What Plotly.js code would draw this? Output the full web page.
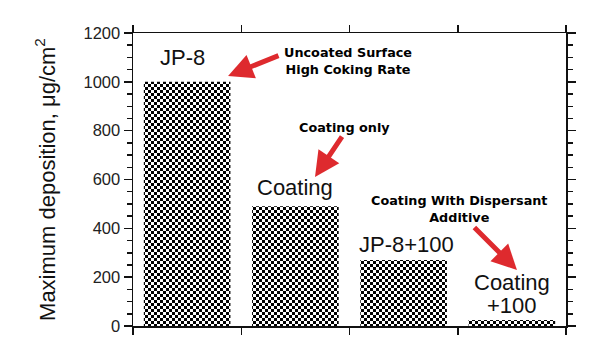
<!DOCTYPE html>
<html>
<head>
<meta charset="utf-8">
<script src="https://cdn.plot.ly/plotly-3.0.1.min.js"></script>
<style>html,body{margin:0;padding:0;background:#fff;}</style>
</head>
<body>
<div id="chart" style="width:600px;height:357px;"></div>
<script>
// ---- data ----
const categories = ["JP-8", "Coating", "JP-8+100", "Coating +100"];
const maxDeposition = [1000, 490, 270, 25];          // µg/cm²
const yTickValues = [0, 200, 400, 600, 800, 1000, 1200];
const yTickLabels = ["0", "200", "400", "600", "800", "1000", "1200"];
const barLabelLines = [["JP-8"], ["Coating"], ["JP-8+100"], ["Coating", "+100"]];
const noteTexts = ["Uncoated Surface<br>High Coking Rate", "Coating only", "Coating With Dispersant<br>Additive"];

// ---- layout helpers (positions in data units) ----
const labelSpots = [[{x: -0.04, y: 1098}], [{x: 1, y: 569}], [{x: 2.03, y: 332}], [{x: 3, y: 180}, {x: 3, y: 86}]];
const noteSpots = [{x: 1.486, y: 1087}, {x: 1.458, y: 815}, {x: 2.52, y: 481}];
const arrowSpots = [
  {x: 0.378, y: 1024, ax: 0.858, ay: 1110},
  {x: 1.181, y: 610, ax: 1.44, ay: 782},
  {x: 3.047, y: 229, ax: 2.64, ay: 410}
];

const trace = {
  type: "bar",
  x: categories,
  y: maxDeposition,
  width: 0.8,
  marker: {
    color: "#000",
    line: {width: 0},
    pattern: {shape: ".", size: 6, solidity: 0.5, fgcolor: "#000", bgcolor: "#fff", fillmode: "replace"}
  },
  hoverinfo: "skip"
};

const annotations = [];
barLabelLines.forEach((lines, i) => {
  lines.forEach((txt, j) => {
    annotations.push({
      x: labelSpots[i][j].x, y: labelSpots[i][j].y, xref: "x", yref: "y",
      text: txt, showarrow: false, xanchor: "center", yanchor: "middle",
      font: {family: "Liberation Sans, Arial, sans-serif", size: 22, color: "#111"}
    });
  });
});
noteTexts.forEach((txt, i) => {
  annotations.push({
    x: noteSpots[i].x, y: noteSpots[i].y, xref: "x", yref: "y",
    text: "<b>" + txt + "</b>", showarrow: false, xanchor: "center", yanchor: "middle",
    font: {family: "DejaVu Sans, sans-serif", size: 12.8, color: "#000"}
  });
});
arrowSpots.forEach(a => {
  annotations.push({
    x: a.x, y: a.y, xref: "x", yref: "y",
    ax: a.ax, ay: a.ay, axref: "x", ayref: "y",
    text: "", showarrow: true, arrowhead: 2, arrowsize: 1.0, arrowwidth: 5,
    arrowcolor: "#de2a2e", standoff: 0, startstandoff: 0
  });
});

const layout = {
  width: 600, height: 357,
  margin: {l: 133, r: 34, t: 33, b: 31, pad: 0},
  paper_bgcolor: "#fff", plot_bgcolor: "#fff",
  showlegend: false,
  bargap: 0.2,
  xaxis: {
    type: "category",
    categoryorder: "array", categoryarray: categories,
    range: [-0.5, 3.5],
    showticklabels: false,
    tickson: "boundaries",
    ticks: "outside", ticklen: 7, tickwidth: 1.5, tickcolor: "#111",
    showline: true, linecolor: "#111", linewidth: 1.5, mirror: "ticks",
    showgrid: false, zeroline: false, fixedrange: true
  },
  yaxis: {
    range: [0, 1200],
    tickvals: yTickValues, ticktext: yTickLabels,
    ticks: "outside", ticklen: 8, tickwidth: 1.5, tickcolor: "#111",
    minor: {dtick: 50, ticks: "outside", ticklen: 5, tickwidth: 1.5, tickcolor: "#111", showgrid: false},
    showline: true, linecolor: "#111", linewidth: 1.5, mirror: "ticks",
    showgrid: false, zeroline: false,
    tickfont: {family: "Liberation Sans, Arial, sans-serif", size: 16.5, color: "#222"},
    title: {text: "Maximum deposition, μg/cm<sup>2</sup>", standoff: 22,
            font: {family: "Liberation Sans, Arial, sans-serif", size: 22, color: "#111"}},
    fixedrange: true
  },
  annotations: annotations
};

function makeChecker(gd) {
  const ns = "http://www.w3.org/2000/svg";
  gd.querySelectorAll("pattern").forEach(p => {
    const s = 6;
    p.setAttribute("width", s);
    p.setAttribute("height", s);
    while (p.firstChild) p.removeChild(p.firstChild);
    [[0, 0, s, s, "#fff"], [0, 0, s / 2, s / 2, "#000"], [s / 2, s / 2, s / 2, s / 2, "#000"]].forEach(r => {
      const e = document.createElementNS(ns, "rect");
      e.setAttribute("x", r[0]); e.setAttribute("y", r[1]);
      e.setAttribute("width", r[2]); e.setAttribute("height", r[3]);
      e.setAttribute("fill", r[4]);
      p.appendChild(e);
    });
  });
}

Plotly.newPlot("chart", [trace], layout, {displayModeBar: false, staticPlot: true}).then(makeChecker);
</script>
</body>
</html>
